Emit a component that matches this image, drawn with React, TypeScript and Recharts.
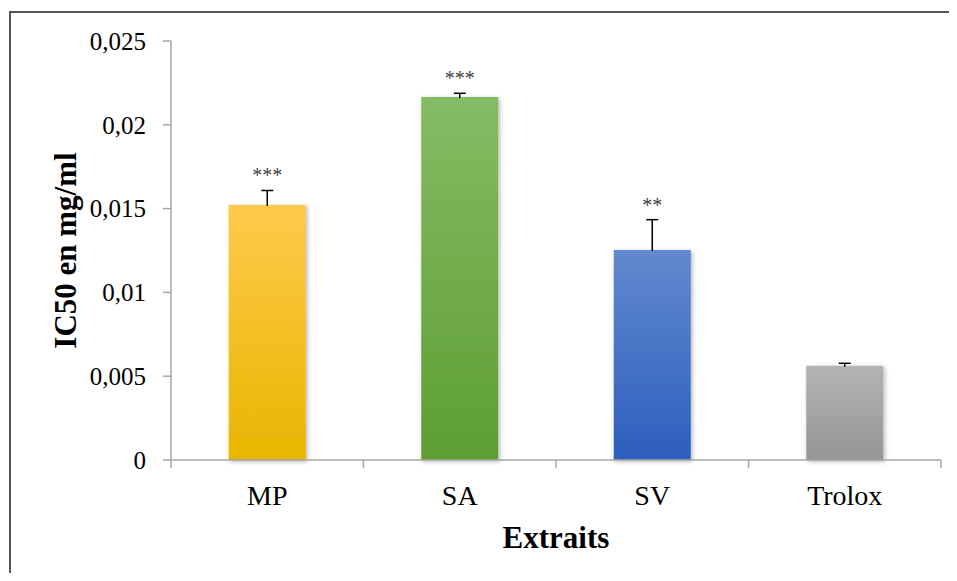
import { BarChart, Bar, XAxis, YAxis, Cell, LabelList } from "recharts"

const CATEGORIES = ["MP", "SA", "SV", "Trolox"]
const IC50 = [0.01521, 0.02166, 0.01253, 0.00563]
const ERRORS = [0.00087, 0.00022, 0.00181, 0.00014]
const SIGNIF = ["***", "***", "**", ""]
const Y_TICKS = [0, 0.005, 0.01, 0.015, 0.02, 0.025]
const Y_TICK_LABELS = ["0", "0,005", "0,01", "0,015", "0,02", "0,025"]

// top / bottom of each bar gradient
const GRADIENTS = [
  ["#FFC94C", "#E8B600"],
  ["#85BB65", "#5E9E32"],
  ["#6189CF", "#2D5EBD"],
  ["#B3B3B3", "#969696"],
]

const FONT = "'Liberation Serif', 'Times New Roman', serif"
const AXIS_COLOR = "#A6A6A6"

const data = CATEGORIES.map((name, i) => ({
  name,
  value: IC50[i],
  err: ERRORS[i],
  sig: SIGNIF[i],
}))

function CategoryTick(props: any) {
  const { x, y, payload, index } = props
  const half = payload?.offset ?? 96
  const axisY = y - 8 - 19
  return (
    <g>
      <line x1={x - half} x2={x - half} y1={axisY} y2={axisY + 8} stroke={AXIS_COLOR} strokeWidth={1.5} />
      {index === CATEGORIES.length - 1 && (
        <line x1={x + half} x2={x + half} y1={axisY} y2={axisY + 8} stroke={AXIS_COLOR} strokeWidth={1.5} />
      )}
      <text x={x} y={y - 2} dy="0.71em" textAnchor="middle" fontFamily={FONT} fontSize={28} fill="#000">
        {payload.value}
      </text>
    </g>
  )
}

function ErrorAndStars(props: any) {
  const { x, y, width, height, index } = props
  const d = data[index]
  const pxPerUnit = height / d.value
  const cx = x + width / 2
  const top = y - d.err * pxPerUnit
  return (
    <g>
      <line x1={cx} x2={cx} y1={y + 1} y2={top} stroke="#000" strokeWidth={1.5} />
      <line x1={cx - 6} x2={cx + 6} y1={top} y2={top} stroke="#000" strokeWidth={1.5} />
      {d.sig && (
        <text x={cx} y={top - 8} textAnchor="middle" fontFamily={FONT} fontSize={20} fill="#404040">
          {d.sig}
        </text>
      )}
    </g>
  )
}

export default function App() {
  return (
    <div style={{ position: "relative", width: 941, height: 565, background: "#fff" }}>
      {/* frame: only the left and top edges show in the picture */}
      <svg width={949} height={565} style={{ position: "absolute", left: 0, top: 0 }}>
        <path d="M2,565 L2,4 L949,4" fill="none" stroke="#555" strokeWidth={2} />
      </svg>
      <div style={{ position: "absolute", left: 0, top: 0 }}>
        <BarChart
          width={945}
          height={565}
          data={data}
          margin={{ top: 33, right: 12, bottom: 40, left: 0 }}
          barCategoryGap="30%"
        >
          <defs>
            {GRADIENTS.map(([a, b], i) => (
              <linearGradient key={i} id={`grad${i}`} x1="0" y1="0" x2="0" y2="1">
                <stop offset="0%" stopColor={a} />
                <stop offset="100%" stopColor={b} />
              </linearGradient>
            ))}
            <filter id="shadow" x="-20%" y="-20%" width="140%" height="140%">
              <feDropShadow dx={1.5} dy={1.5} stdDeviation={2} floodColor="#000" floodOpacity={0.3} />
            </filter>
          </defs>
          <XAxis
            dataKey="name"
            height={73}
            axisLine={{ stroke: AXIS_COLOR, strokeWidth: 1.5 }}
            tickLine={false}
            tickSize={8}
            tickMargin={19}
            interval={0}
            tick={<CategoryTick />}
            label={{
              content: (p: any) => {
                const vb = p.viewBox
                return (
                  <text x={vb.x + vb.width / 2} y={529} textAnchor="middle" dominantBaseline="central"
                    fontFamily={FONT} fontSize={31} fontWeight="bold" fill="#000">
                    Extraits
                  </text>
                )
              },
            }}
          />
          <YAxis
            width={163}
            domain={[0, 0.025]}
            ticks={Y_TICKS}
            interval={0}
            axisLine={{ stroke: AXIS_COLOR, strokeWidth: 1.5 }}
            tickLine={{ stroke: AXIS_COLOR, strokeWidth: 1.5 }}
            tickSize={8}
            tickMargin={17}
            tickFormatter={(v: number) => Y_TICK_LABELS[Y_TICKS.indexOf(v)] ?? String(v)}
            tick={{ fontFamily: FONT, fontSize: 25, fill: "#000" }}
            label={{
              content: (p: any) => {
                const vb = p.viewBox
                const cy = vb.y + vb.height / 2
                return (
                  <text x={57} y={cy} transform={`rotate(-90, 57, ${cy})`} textAnchor="middle"
                    dominantBaseline="central" fontFamily={FONT} fontSize={31} fontWeight="bold" fill="#000">
                    IC50 en mg/ml
                  </text>
                )
              },
            }}
          />
          <Bar dataKey="value" isAnimationActive={false} filter="url(#shadow)">
            {data.map((_, i) => (
              <Cell key={i} fill={`url(#grad${i})`} />
            ))}
            <LabelList dataKey="value" content={<ErrorAndStars />} />
          </Bar>
        </BarChart>
      </div>
    </div>
  )
}
